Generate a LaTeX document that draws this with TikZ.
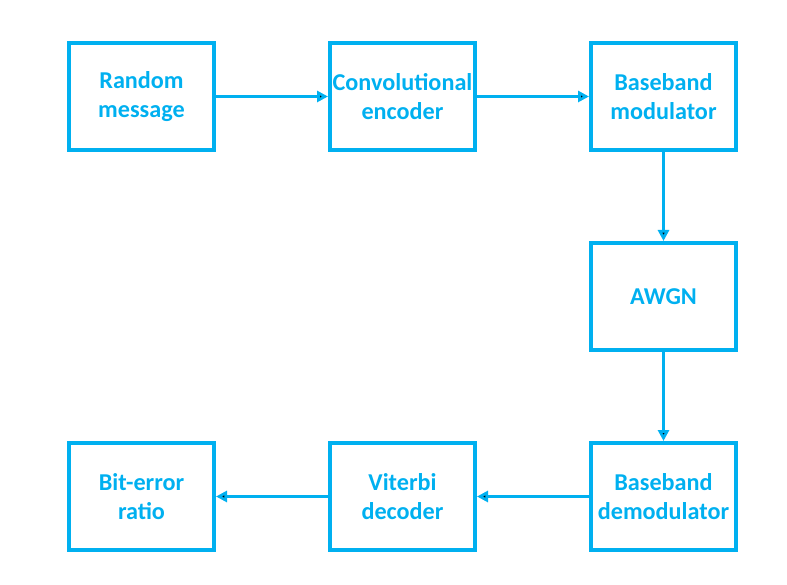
\documentclass[tikz,border=0pt]{standalone}
\usepackage{fontspec}
\setmainfont{Carlito}
\usepackage{tikz}
\usetikzlibrary{positioning, arrows.meta}
\usepackage{xcolor}
\definecolor{lblue}{RGB}{0,176,240}

\begin{document}
\begin{tikzpicture}[x=1pt, y=1pt, node distance=200pt and 261pt, on grid, auto,
    block/.style={draw=lblue, line width=4pt, minimum width=145pt, minimum height=107pt,
      inner sep=0pt, align=center, text=lblue, font=\fontsize{24.2}{29}\selectfont\bfseries},
    link/.style={draw=lblue, line width=3.5pt, -{Triangle[length=11pt, width=11pt]}}]
   \useasboundingbox (0,0) rectangle (787,-585);
   \node[block] (rand) at (141.5,-96.5) {Random\\message};
   \node[block] (enc) [right=of rand] {Convolutional\\encoder};
   \node[block] (mod) [right=of enc] {Baseband\\modulator};
   \node[block] (awgn) [below=of mod] {AWGN};
   \node[block] (demod) [below=of awgn] {Baseband\\demodulator};
   \node[block] (vit) [left=of demod] {Viterbi\\decoder};
   \node[block] (ber) [left=of vit] {Bit-error\\ratio};
   \path[link]
    (rand) edge (enc)
    (enc) edge (mod)
    (mod) edge (awgn)
    (awgn) edge (demod)
    (demod) edge (vit)
    (vit) edge (ber)
    ;
\end{tikzpicture}
\end{document}
